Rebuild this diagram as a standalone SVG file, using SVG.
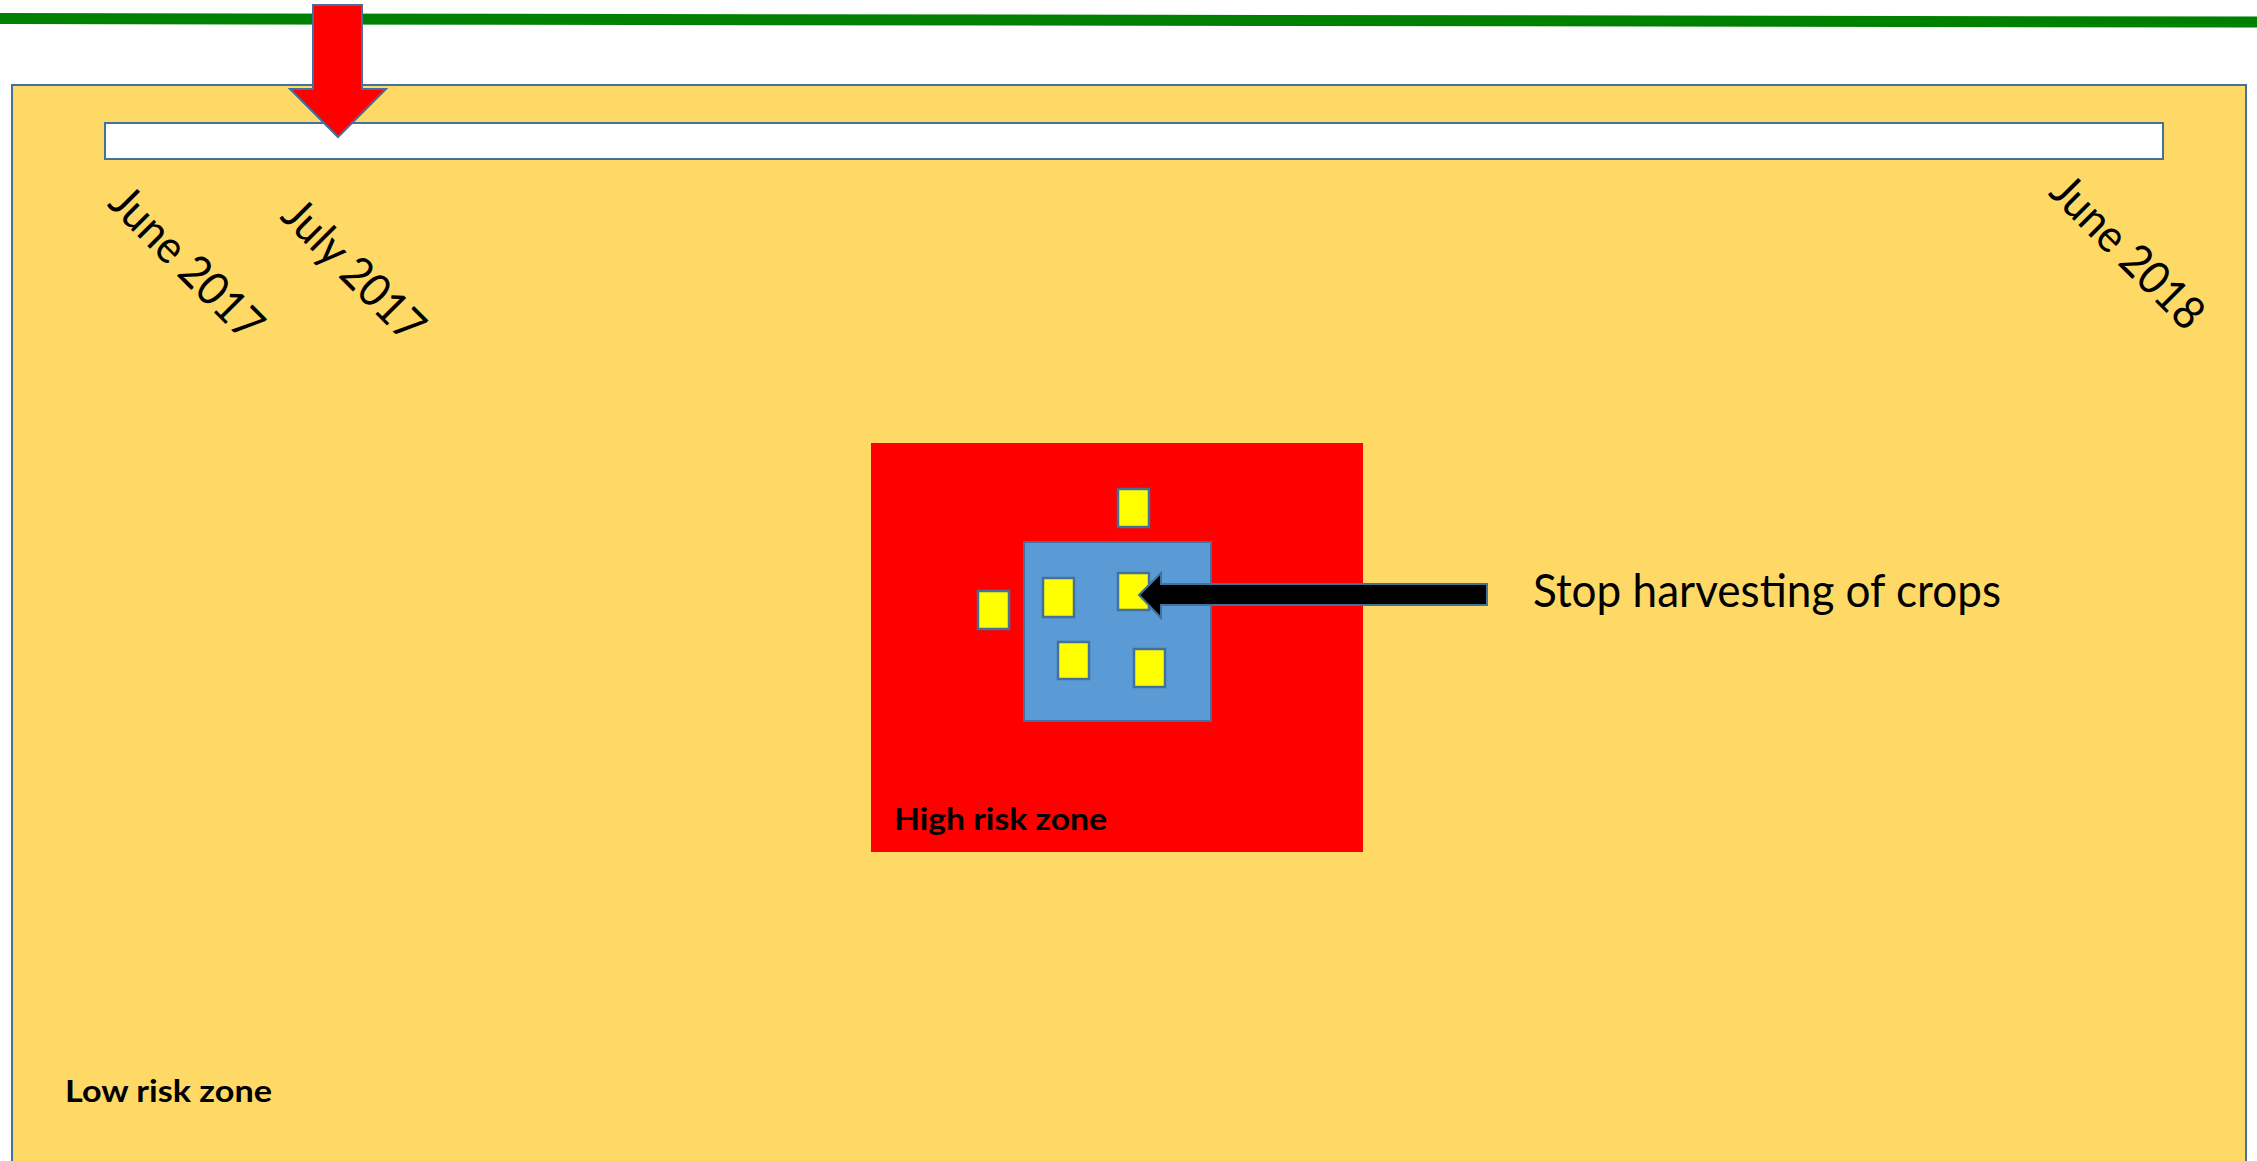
<svg xmlns="http://www.w3.org/2000/svg" width="2257" height="1161" viewBox="0 0 2257 1161">
<style>
.ln{stroke:#41719C;stroke-width:2}
.crop{fill:#FFFF00;stroke:#41719C;stroke-width:2.5}
.lbl{font-family:Lato,"Liberation Sans",sans-serif;fill:#000}
.date{font-size:46px}
.bold{font-weight:bold;font-size:31px}
</style>
<rect width="2257" height="1161" fill="#FFFFFF"/>
<g id="topline"><line x1="0" y1="18.5" x2="2257" y2="22" stroke="#008000" stroke-width="11"/></g>
<g id="low-risk-zone">
<rect x="12" y="85" width="2234" height="1100" fill="#FFD966" class="ln"/>
<text class="lbl bold" x="65" y="1102" textLength="207" lengthAdjust="spacingAndGlyphs">Low risk zone</text>
</g>
<g id="timeline">
<rect x="105" y="123" width="2058" height="36" fill="#FFFFFF" class="ln"/>
<text class="lbl date" transform="translate(187,263) rotate(45)" x="0" y="16" text-anchor="middle" textLength="196" lengthAdjust="spacingAndGlyphs">June 2017</text>
<text class="lbl date" transform="translate(354,270) rotate(45)" x="0" y="16" text-anchor="middle" textLength="180" lengthAdjust="spacingAndGlyphs">July 2017</text>
<text class="lbl date" transform="translate(2128,252) rotate(45)" x="0" y="16" text-anchor="middle" textLength="196" lengthAdjust="spacingAndGlyphs">June 2018</text>
</g>
<g id="high-risk-zone">
<rect x="871" y="443" width="492" height="409" fill="#FF0000"/>
<text class="lbl bold" x="894" y="830" textLength="213" lengthAdjust="spacingAndGlyphs">High risk zone</text>
</g>
<g id="infected-area">
<rect x="1024" y="542" width="187" height="179" fill="#5B9BD5" class="ln" stroke-width="2.5"/>
</g>
<g id="crops">
<rect class="crop" x="1118" y="489" width="31" height="38"/>
<rect class="crop" x="978" y="591" width="31" height="38"/>
<rect class="crop" x="1043" y="578" width="31" height="39"/>
<rect class="crop" x="1118" y="573" width="31" height="37"/>
<rect class="crop" x="1058" y="642" width="31" height="37"/>
<rect class="crop" x="1134" y="649" width="31" height="38"/>
</g>
<g id="connectors">
<polygon points="313,5 362,5 362,89 386,89 338,137 290,89 313,89" fill="#FF0000" class="ln"/>
<polygon points="1139,595 1161,573 1161,584 1487,584 1487,605 1161,605 1161,618" fill="#000000" class="ln"/>
</g>
<g id="stop-label">
<text class="lbl" x="1533" y="607" font-size="46" textLength="468" lengthAdjust="spacingAndGlyphs">Stop harvesting of crops</text>
</g>
</svg>
